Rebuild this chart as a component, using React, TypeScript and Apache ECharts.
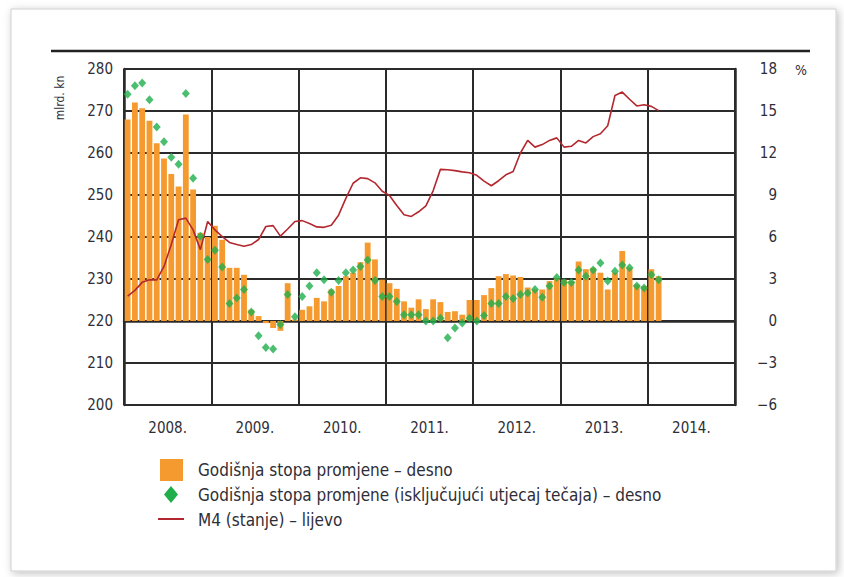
import React, { useEffect, useRef } from "react";
import * as echarts from "echarts";

const years = ["2008.", "2009.", "2010.", "2011.", "2012.", "2013.", "2014."];
const months: string[] = [];
for (let y = 2008; y <= 2014; y++) for (let m = 1; m <= 12; m++) months.push(`${y}-${m}`);

const leftTicks = [200, 280, 10];
const rightTicks = [-6, 18, 3];

// Godišnja stopa promjene – desno (%)
const annualRate = [
  14.4, 15.6, 15.2, 14.3, 12.7, 11.6, 10.5, 9.6, 14.75, 9.4, 6.3, 6.0,
  6.8, 5.8, 3.8, 3.8, 3.3, 0.8, 0.35, -0.15, -0.5, -0.7, 2.7, 0.1,
  0.8, 1.05, 1.65, 1.4, 2.25, 2.5, 3.2, 3.45, 4.2, 5.6, 4.4, 2.95,
  2.7, 2.3, 1.4, 0.95, 1.55, 0.85, 1.55, 1.35, 0.65, 0.7, 0.45, 1.5,
  1.5, 1.85, 2.35, 3.2, 3.35, 3.25, 3.15, 2.4, 2.25, 2.25, 2.85, 3.05,
  2.95, 2.85, 4.25, 3.7, 3.8, 3.45, 2.25, 3.45, 5.0, 3.8, 2.6, 2.5,
  3.7, 3.2,
];

// Godišnja stopa promjene (isključujući utjecaj tečaja) – desno (%)
const annualRateExFx = [
  16.2, 16.8, 17.0, 15.8, 13.85, 12.8, 11.7, 11.2, 16.25, 10.2, 6.05, 4.4,
  5.05, 3.85, 1.25, 1.65, 2.25, 0.65, -1.05, -1.9, -2.0, -0.25, 1.9, 0.3,
  1.75, 2.5, 3.45, 2.95, 2.05, 2.9, 3.45, 3.65, 3.9, 4.35, 2.9, 1.75,
  1.75, 1.4, 0.45, 0.45, 0.45, 0.0, 0.0, 0.2, -1.2, -0.5, -0.15, 0.2,
  0.0, 0.4, 1.25, 1.25, 1.75, 1.6, 1.9, 2.0, 2.25, 1.7, 2.5, 3.1,
  2.75, 2.75, 3.65, 3.2, 3.65, 4.15, 2.85, 3.55, 4.0, 3.8, 2.5, 2.35,
  3.3, 2.95,
];

// M4 (stanje) – lijevo (mlrd. kn)
const m4Level = [
  225.9, 227.3, 229.2, 229.8, 229.8, 233.0, 238.2, 244.1, 244.5, 241.7, 237.0, 243.7,
  241.7, 240.1, 238.7, 238.2, 237.8, 238.2, 239.4, 242.5, 242.7, 240.2, 241.9, 243.7,
  243.9, 243.2, 242.4, 242.3, 242.8, 245.2, 249.2, 252.8, 254.1, 253.9, 252.9, 250.9,
  249.9, 247.5, 245.3, 244.9, 246.0, 247.4, 251.0, 256.1, 256.0, 255.8, 255.5, 255.3,
  254.7, 253.3, 252.2, 253.4, 254.8, 255.6, 260.0, 263.0, 261.4, 262.0, 263.0, 263.6,
  261.4, 261.6, 263.0, 262.4, 263.9, 264.6, 266.5, 273.7, 274.5, 272.8, 271.2, 271.5,
  271.1, 270.1,
];

const legendNames = [
  "Godišnja stopa promjene – desno",
  "Godišnja stopa promjene (isključujući utjecaj tečaja) – desno",
  "M4 (stanje) – lijevo",
];

const FONT = "'Liberation Sans Narrow', 'DejaVu Sans Condensed', 'Liberation Sans', sans-serif";
const ORANGE = "#F59A2F";
const GREEN = "#1FAE4B";
const RED = "#B3282E";
const GRID = "#2b2b2b";
const TXT = "#2e2e38";

export default function App() {
  const ref = useRef<HTMLDivElement>(null);
  useEffect(() => {
    document.body.style.margin = "0";
    const chart = echarts.init(ref.current!, null, { renderer: "svg" });
    chart.setOption({
      animation: false,
      backgroundColor: "#ffffff",
      textStyle: { fontFamily: FONT },
      grid: { left: 124, right: 109, top: 69, bottom: 172, containLabel: false },
      xAxis: [
        {
          type: "category",
          data: years,
          boundaryGap: true,
          position: "bottom",
          axisLine: { show: true, lineStyle: { color: GRID, width: 2.5 } },
          axisTick: { show: false },
          axisLabel: { color: TXT, fontSize: 15, margin: 15, fontFamily: FONT },
          splitLine: { show: true, interval: 0, lineStyle: { color: GRID, width: 2 } },
        },
        {
          type: "category",
          data: months,
          boundaryGap: true,
          position: "bottom",
          show: false,
        },
      ],
      yAxis: [
        {
          type: "value",
          min: leftTicks[0],
          max: leftTicks[1],
          interval: leftTicks[2],
          position: "left",
          axisLine: { show: true, lineStyle: { color: GRID, width: 2.5 } },
          axisTick: { show: false },
          axisLabel: { color: TXT, fontSize: 15, margin: 11, fontFamily: FONT },
          splitLine: { show: true, lineStyle: { color: GRID, width: 2 } },
        },
        {
          type: "value",
          min: rightTicks[0],
          max: rightTicks[1],
          interval: rightTicks[2],
          position: "right",
          axisLine: { show: true, lineStyle: { color: GRID, width: 2.5 } },
          axisTick: { show: false },
          axisLabel: {
            color: TXT,
            fontSize: 15,
            margin: 42,
            align: "right",
            fontFamily: FONT,
            formatter: (v: number) => (v < 0 ? "−" + Math.abs(v) : String(v)),
          },
          splitLine: { show: false },
        },
      ],
      series: [
        {
          name: legendNames[0],
          type: "bar",
          xAxisIndex: 1,
          yAxisIndex: 1,
          data: annualRate,
          barCategoryGap: "20%",
          itemStyle: { color: ORANGE },
          z: 2,
        },
        {
          name: legendNames[2],
          type: "line",
          xAxisIndex: 1,
          yAxisIndex: 0,
          data: m4Level,
          symbol: "none",
          lineStyle: { color: RED, width: 1.6 },
          z: 3,
        },
        {
          name: legendNames[1],
          type: "scatter",
          xAxisIndex: 1,
          yAxisIndex: 1,
          data: annualRateExFx,
          symbol: "diamond",
          symbolSize: [8, 9],
          itemStyle: { color: GREEN },
          z: 4,
        },
      ],
      graphic: [
        {
          type: "rect",
          z: -10,
          shape: { x: 11, y: 9, width: 825, height: 562 },
          style: {
            fill: "#ffffff",
            stroke: "#cfcfcf",
            lineWidth: 1,
            shadowBlur: 8,
            shadowColor: "rgba(0,0,0,0.25)",
            shadowOffsetX: 2,
            shadowOffsetY: 2,
          },
        },
        {
          type: "line",
          shape: { x1: 51, y1: 51, x2: 810, y2: 51 },
          style: { stroke: "#222", lineWidth: 2.5 },
        },
        {
          type: "text",
          x: 795,
          y: 70,
          style: { text: "%", fill: TXT, font: `14px ${FONT}`, verticalAlign: "middle" },
        },
        {
          type: "text",
          x: 60,
          y: 98,
          rotation: Math.PI / 2,
          style: {
            text: "mlrd. kn",
            fill: TXT,
            font: `12px ${FONT}`,
            align: "center",
            verticalAlign: "middle",
          },
        },
        {
          type: "rect",
          shape: { x: 160, y: 459, width: 23, height: 22 },
          style: { fill: ORANGE },
        },
        {
          type: "polygon",
          shape: { points: [[171, 486], [178, 494.5], [171, 503], [164, 494.5]] },
          style: { fill: GREEN },
        },
        {
          type: "line",
          shape: { x1: 158, y1: 519, x2: 184, y2: 519 },
          style: { stroke: RED, lineWidth: 2 },
        },
        {
          type: "text",
          x: 198,
          y: 470,
          style: { text: legendNames[0], fill: TXT, font: `17px ${FONT}`, verticalAlign: "middle" },
        },
        {
          type: "text",
          x: 198,
          y: 495,
          style: { text: legendNames[1], fill: TXT, font: `17px ${FONT}`, verticalAlign: "middle" },
        },
        {
          type: "text",
          x: 198,
          y: 520,
          style: { text: legendNames[2], fill: TXT, font: `17px ${FONT}`, verticalAlign: "middle" },
        },
      ],
    });
    return () => chart.dispose();
  }, []);
  return <div ref={ref} style={{ position: "fixed", left: 0, top: 0, width: 844, height: 577 }} />;
}
